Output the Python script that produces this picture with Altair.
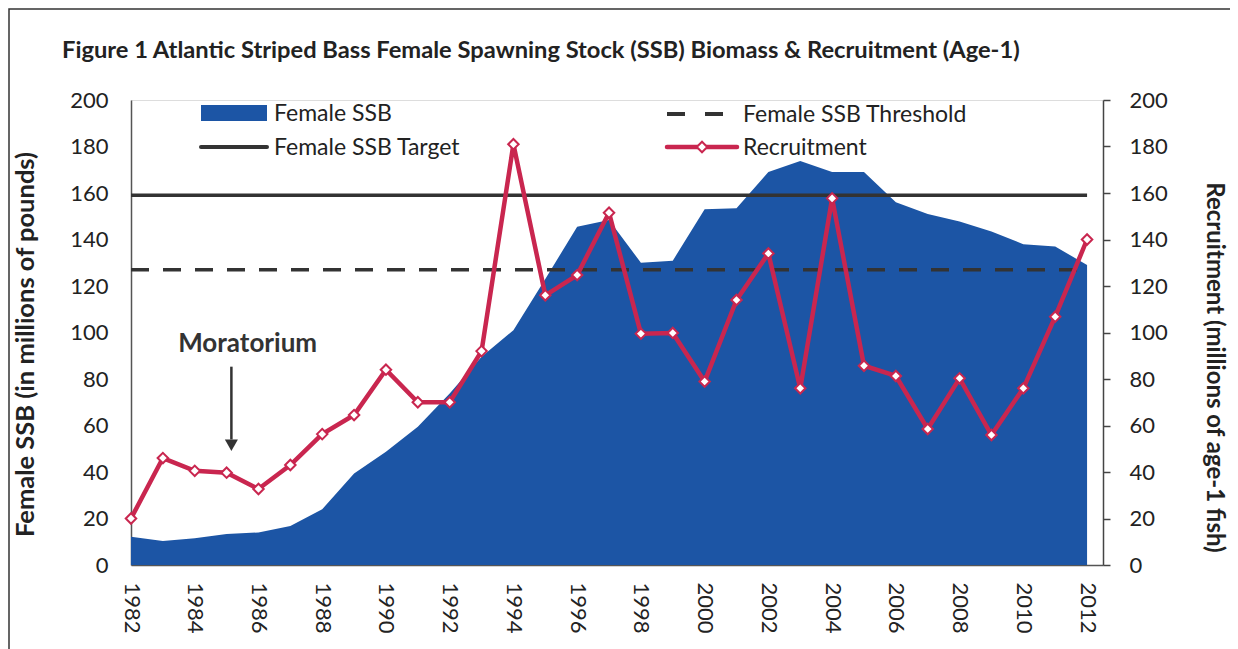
import altair as alt
import pandas as pd

years = list(range(1982, 2013))
female_ssb = [12.2, 10.3, 11.5, 13.3, 14.0, 16.8, 24.0, 39.4, 48.7, 59.5,
              73.8, 89.6, 101.0, 123.0, 145.5, 148.4, 130.0, 130.9, 153.0, 153.4,
              169.0, 173.8, 169.0, 169.0, 156.0, 151.0, 147.7, 143.4, 138.0, 137.0,
              129.0]
recruitment = [20.0, 46.0, 40.5, 39.7, 32.7, 43.0, 56.3, 64.5, 84.0, 70.0,
               70.0, 92.0, 181.0, 116.0, 124.7, 151.5, 99.5, 99.8, 78.9, 114.0,
               134.0, 76.0, 157.7, 85.7, 81.3, 58.5, 80.3, 55.9, 76.0, 106.8,
               140.0]
ssb_target = 159
ssb_threshold = 127
title_text = "Figure 1 Atlantic Striped Bass Female Spawning Stock (SSB) Biomass & Recruitment (Age-1)"

FONT = "Lato"
BLUE = "#1C55A5"
RED = "#C9264F"
DARK = "#333333"

W, H = 972, 465
df = pd.DataFrame({"year": years, "ssb": female_ssb, "rec": recruitment})

xscale = alt.Scale(domain=[1982, 2012.5], nice=False, zero=False)
yscale = alt.Scale(domain=[0, 200], nice=False)

xaxis = alt.Axis(values=list(range(1982, 2013, 2)), format="d", labelAngle=90,
                 labelAlign="left", labelBaseline="middle", labelPadding=17,
                 ticks=False, grid=False, title=None, labelFont=FONT, labelFontSize=22,
                 labelColor="#222", domainColor="#555", domainWidth=1.5, labelFlush=False,
                 labelOverlap=False)
yaxis_left = alt.Axis(
    values=list(range(0, 201, 20)), ticks=False, grid=False, labelPadding=23,
    labelFont=FONT, labelFontSize=22, labelColor="#222", domainColor="#555",
    domainWidth=1.5, title="Female SSB (in millions of pounds)", titleFont=FONT,
    titleFontSize=25.5, titleFontWeight="bold", titleColor="#222", titleX=-106,
    titleY=244, titleAngle=270, titleBaseline="middle", titleAlign="center")
yaxis_right = alt.Axis(
    orient="right", values=list(range(0, 201, 20)), ticks=True, tickSize=7,
    tickColor="#444", tickWidth=1.5, grid=False, labelPadding=19,
    labelFont=FONT, labelFontSize=22, labelColor="#222", domainColor="#444",
    domainWidth=1.5, title="Recruitment (millions of age-1 fish)", titleFont=FONT,
    titleFontSize=24, titleFontWeight="bold", titleColor="#222", titleX=110,
    titleY=267, titleAngle=90, titleBaseline="middle", titleAlign="center")


def X(field):
    return alt.X(field, scale=xscale, axis=xaxis)


def YL(field):
    return alt.Y(field, scale=yscale, axis=yaxis_left)


area = alt.Chart(df).mark_area(color=BLUE, opacity=1).encode(x=X("year:Q"), y=YL("ssb:Q"))

lines_df = pd.DataFrame({"x": [1982, 1982], "x2": [2012, 2012],
                         "y": [ssb_target, ssb_threshold],
                         "kind": ["Target", "Threshold"]})
target = alt.Chart(lines_df[lines_df.kind == "Target"]).mark_rule(
    color=DARK, strokeWidth=3.5).encode(x=X("x:Q"), x2="x2:Q", y=YL("y:Q"))
threshold = alt.Chart(lines_df[lines_df.kind == "Threshold"]).mark_rule(
    color=DARK, strokeWidth=3.5, strokeDash=[18, 14]).encode(x=X("x:Q"), x2="x2:Q", y=YL("y:Q"))

# Moratorium annotation
ann_text = alt.Chart(pd.DataFrame({"x": [1985.66], "y": [91.6], "t": ["Moratorium"]})).mark_text(
    font=FONT, fontSize=26, fontWeight="bold", color=DARK, baseline="alphabetic", align="center").encode(
    x=X("x:Q"), y=YL("y:Q"), text="t:N")
arrow = alt.Chart(pd.DataFrame({"x": [1985.15], "y": [85.3], "y2": [54.0]})).mark_rule(
    color=DARK, strokeWidth=2.5).encode(x=X("x:Q"), y=YL("y:Q"), y2="y2:Q")
arrow_head = alt.Chart(pd.DataFrame({"x": [1985.15], "y": [51.5]})).mark_point(
    shape="triangle-down", filled=True, color=DARK, size=170, opacity=1).encode(
    x=X("x:Q"), y=YL("y:Q"))

# Manual legend (pixel positions inside the plot)
leg_ssb = alt.Chart(df.head(1)).mark_rect(color=BLUE).encode(
    x=alt.value(70), x2=alt.value(136), y=alt.value(5), y2=alt.value(21))
leg_target = alt.Chart(df.head(1)).mark_rule(color=DARK, strokeWidth=4, strokeCap="round").encode(
    x=alt.value(70), x2=alt.value(136), y=alt.value(47))
leg_thresh = alt.Chart(df.head(1)).mark_rule(color=DARK, strokeWidth=4, strokeDash=[18, 20]).encode(
    x=alt.value(536), x2=alt.value(594), y=alt.value(14))
leg_rec = alt.Chart(df.head(1)).mark_rule(color=RED, strokeWidth=4.5, strokeCap="round").encode(
    x=alt.value(536), x2=alt.value(606), y=alt.value(47))
leg_rec_pt = alt.Chart(df.head(1)).mark_point(shape="diamond", filled=True, fill="white",
                                              stroke=RED, strokeWidth=2, size=110, opacity=1).encode(
    x=alt.value(571), y=alt.value(47))
leg_labels = pd.DataFrame({"t": ["Female SSB", "Female SSB Target", "Female SSB Threshold", "Recruitment"],
                           "px": [143, 143, 612, 612], "py": [21, 55, 22, 55]})
leg_texts = []
for _, r in leg_labels.iterrows():
    leg_texts.append(alt.Chart(pd.DataFrame({"t": [r.t]})).mark_text(
        font=FONT, fontSize=23, color="#222", align="left", baseline="alphabetic").encode(
        x=alt.value(int(r.px)), y=alt.value(int(r.py)), text="t:N"))

title = alt.Chart(pd.DataFrame({"t": [title_text]})).mark_text(
    font=FONT, fontSize=23.7, fontWeight="bold", color="#222", align="left", baseline="alphabetic").encode(
    x=alt.value(-69), y=alt.value(-42), text="t:N")
border = alt.Chart(df.head(1)).mark_rect(fill=None, stroke="#333", strokeWidth=1.5).encode(
    x=alt.value(-122), x2=alt.value(1103), y=alt.value(-91), y2=alt.value(700))

left = alt.layer(area, border, target, threshold, ann_text, arrow, arrow_head,
                 leg_ssb, leg_target, leg_thresh, leg_rec, leg_rec_pt, *leg_texts, title)

rec_line = alt.Chart(df).mark_line(
    color=RED, strokeWidth=4.5,
    point=alt.OverlayMarkDef(shape="diamond", filled=True, fill="white", stroke=RED,
                             strokeWidth=2, size=110, opacity=1)).encode(
    x=X("year:Q"),
    y=alt.Y("rec:Q", scale=yscale, axis=yaxis_right),
)

chart = alt.layer(left, rec_line).resolve_scale(y="independent").properties(
    width=W, height=H,
    autosize=alt.AutoSizeParams(type="none"),
    padding={"left": 123, "top": 92, "right": 127, "bottom": 84},
).configure_view(stroke=None).configure(background="white")

chart.save("out.html", embed_options={"renderer": "svg", "actions": False})
